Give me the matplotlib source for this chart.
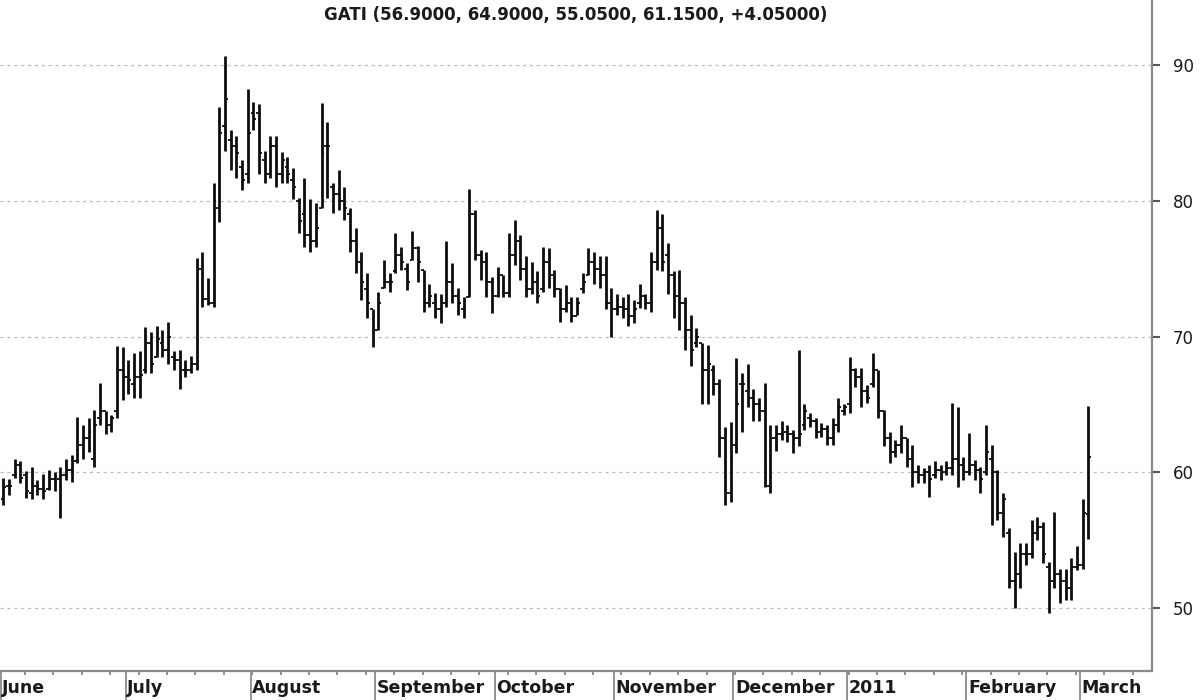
import numpy as np
import matplotlib
matplotlib.use("Agg")
from matplotlib import pyplot as plt
import matplotlib.transforms as mtransforms

plt.rcParams['font.family'] = ['DejaVu Sans']

# daily OHLC bars, Jun 2010 - Mar 2011, one line per month
opens = [
    58.0, 59.0, 59.8, 60.5, 59.8, 58.5, 59.0, 58.8, 58.8, 59.5, 59.5, 59.8, 60.2, 60.8, 62.0, 62.5, 61.0, 64.0, 64.5, 63.5, 64.5, 67.5,
    67.0, 66.5, 67.0, 67.5, 69.5, 68.5, 69.5, 69.0, 68.5, 68.3, 67.5, 67.5, 68.0, 75.0, 72.8, 72.5, 79.5, 85.5, 84.5, 84.0, 82.5, 82.0,
    86.5, 86.5, 83.0, 82.0, 84.0, 82.0, 82.5, 81.5, 80.0, 79.0, 77.5, 77.0, 79.5, 84.0, 81.0, 80.5, 80.0, 79.0, 77.0, 75.5, 73.5, 72.0,
    70.5, 73.6, 74.0, 74.8, 76.0, 75.0, 75.6, 76.5, 74.9, 72.5, 72.5, 72.0, 72.5, 74.0, 73.0, 72.0, 72.9, 79.0, 76.0, 75.5, 74.0,
    73.0, 74.5, 73.2, 76.0, 77.0, 75.0, 73.5, 74.0, 73.5, 75.5, 74.5, 73.5, 72.0, 72.5, 71.5, 73.5, 74.5, 75.5, 75.0, 74.5, 72.5, 72.0,
    72.2, 72.0, 71.5, 72.5, 73.0, 72.5, 75.5, 78.0, 76.0, 74.5, 73.0, 72.5, 70.5, 69.5, 69.5, 67.5, 67.5, 66.5, 62.5, 58.5,
    62.0, 66.5, 66.0, 65.5, 65.0, 64.5, 59.0, 62.5, 62.8, 63.0, 62.8, 62.5, 63.5, 64.0, 63.8, 63.0, 63.2, 62.5, 63.5, 64.5,
    65.0, 67.5, 67.0, 66.0, 66.5, 67.5, 64.5, 62.5, 61.5, 62.0, 62.5, 61.0, 60.0, 59.8, 60.0, 59.8, 60.2, 60.0, 60.3, 61.0, 60.5,
    60.0, 60.5, 60.2, 60.0, 61.0, 60.0, 57.0, 55.5, 52.0, 52.5, 54.0, 54.0, 55.5, 56.0, 53.0, 52.0, 52.5, 52.0, 51.5, 53.0,
    53.2, 56.9,
]
highs = [
    59.6, 59.5, 61.0, 60.8, 60.1, 60.4, 59.4, 59.9, 60.2, 60.0, 60.4, 61.0, 61.3, 64.1, 63.5, 64.0, 64.6, 66.6, 64.5, 64.2, 69.3, 69.2,
    68.3, 68.8, 68.9, 70.7, 70.3, 70.8, 70.5, 71.1, 68.9, 69.0, 68.3, 68.6, 75.8, 76.2, 74.3, 81.3, 86.9, 90.7, 85.2, 84.8, 83.0, 88.2,
    87.3, 87.1, 83.7, 84.8, 84.8, 83.6, 83.2, 82.4, 80.2, 81.7, 80.1, 79.8, 87.2, 85.8, 81.3, 82.3, 81.0, 79.5, 78.0, 76.2, 74.7, 72.0,
    73.3, 75.6, 74.7, 77.6, 76.6, 75.4, 77.8, 76.7, 74.9, 73.9, 73.2, 73.1, 77.0, 75.4, 73.6, 72.9, 80.9, 79.3, 76.4, 76.2, 74.4,
    75.1, 74.5, 77.6, 78.6, 77.5, 75.9, 75.5, 74.8, 76.6, 76.5, 74.9, 73.6, 73.8, 72.9, 72.9, 74.7, 76.5, 76.2, 75.9, 75.9, 73.6, 73.1,
    72.9, 73.1, 72.7, 73.9, 73.1, 76.2, 79.3, 79.0, 76.9, 74.8, 74.9, 72.9, 71.6, 70.6, 69.5, 69.4, 67.9, 66.9, 63.3, 63.7,
    68.4, 67.3, 68.0, 66.1, 65.5, 66.6, 63.5, 63.5, 63.8, 63.5, 63.1, 69.0, 65.0, 64.4, 64.0, 63.6, 63.5, 64.0, 65.5, 65.0,
    68.5, 67.7, 67.7, 66.4, 68.8, 67.5, 64.6, 63.0, 62.4, 63.5, 62.5, 62.0, 60.5, 60.3, 60.5, 60.8, 60.5, 60.8, 65.1, 64.8, 61.1,
    62.9, 60.9, 60.4, 63.5, 62.0, 60.2, 58.5, 55.9, 54.1, 54.8, 54.8, 56.5, 56.7, 56.3, 53.4, 57.1, 52.9, 52.9, 53.7, 54.6,
    58.0, 64.9,
]
lows = [
    57.6, 58.3, 59.6, 59.2, 58.1, 58.0, 58.3, 58.0, 58.7, 58.6, 56.6, 59.4, 59.3, 60.7, 61.0, 61.5, 60.4, 63.5, 62.8, 63.0, 64.0, 65.3,
    65.8, 65.5, 65.5, 67.3, 67.3, 68.5, 68.5, 68.0, 67.5, 66.1, 67.0, 67.3, 67.5, 72.2, 72.3, 72.2, 78.4, 83.7, 82.3, 81.7, 80.8, 81.3,
    85.2, 82.0, 81.3, 81.7, 81.0, 81.3, 81.3, 80.1, 77.6, 76.6, 76.2, 76.6, 79.5, 80.2, 79.1, 79.3, 78.6, 76.2, 74.7, 72.7, 71.4, 69.2,
    70.5, 73.6, 73.3, 74.7, 74.9, 73.4, 75.6, 74.0, 71.8, 72.2, 71.4, 71.0, 72.2, 72.5, 71.6, 71.4, 72.9, 75.6, 74.2, 72.9, 71.7,
    72.9, 72.9, 72.9, 75.3, 74.2, 72.9, 73.1, 72.5, 73.3, 73.6, 72.9, 71.1, 71.8, 71.1, 71.6, 73.2, 74.5, 73.9, 73.6, 72.0, 70.0, 71.6,
    71.4, 70.8, 71.0, 72.1, 72.0, 71.8, 74.9, 74.8, 73.1, 71.4, 70.5, 69.0, 67.8, 69.2, 65.0, 65.0, 65.7, 61.1, 57.6, 57.8,
    61.4, 63.0, 64.8, 63.8, 63.8, 58.9, 58.5, 61.6, 62.4, 62.2, 61.4, 61.9, 63.1, 63.3, 62.5, 62.6, 62.0, 62.0, 63.0, 64.2,
    64.4, 66.3, 64.8, 65.1, 66.3, 64.0, 61.9, 60.7, 61.1, 61.4, 60.4, 58.9, 59.2, 59.2, 58.2, 59.6, 59.4, 59.8, 59.8, 58.9, 59.4,
    59.8, 59.4, 58.5, 59.8, 56.1, 56.5, 55.2, 51.5, 50.0, 51.5, 53.2, 53.7, 55.0, 53.3, 49.6, 51.5, 50.4, 50.6, 50.6, 52.8,
    52.9, 55.05,
]
closes = [
    58.9, 59.0, 60.5, 59.6, 58.6, 59.0, 58.8, 58.6, 59.5, 59.3, 59.8, 60.2, 60.0, 62.0, 62.5, 63.0, 63.5, 64.5, 63.5, 64.0, 67.5, 67.0,
    66.8, 67.0, 67.2, 69.5, 68.0, 69.8, 69.0, 70.0, 68.3, 67.0, 67.5, 68.0, 73.0, 72.8, 72.5, 80.0, 85.0, 87.5, 84.0, 83.5, 81.5, 85.0,
    86.0, 83.5, 82.0, 84.0, 82.0, 83.0, 82.0, 81.0, 78.5, 77.5, 77.0, 78.0, 83.5, 84.0, 80.5, 80.0, 79.5, 77.0, 75.5, 74.0, 72.5, 70.3,
    72.5, 74.0, 74.0, 76.0, 75.5, 74.0, 76.5, 75.5, 72.5, 73.0, 72.0, 72.5, 74.0, 73.0, 72.5, 72.0, 79.0, 76.0, 75.0, 74.0, 73.0,
    74.0, 73.2, 76.0, 77.0, 75.0, 73.5, 74.0, 73.0, 75.5, 74.5, 73.5, 72.0, 72.5, 71.5, 72.5, 74.0, 75.5, 75.0, 74.5, 72.5, 72.0, 72.2,
    72.0, 71.5, 72.0, 73.0, 72.5, 75.5, 78.0, 75.5, 74.5, 73.0, 72.5, 70.5, 69.0, 70.0, 67.5, 68.0, 66.5, 62.5, 58.5, 61.0,
    65.0, 66.5, 65.5, 65.0, 64.5, 60.0, 62.5, 62.8, 63.2, 62.8, 62.5, 62.8, 64.5, 63.8, 63.0, 63.2, 62.5, 63.5, 64.8, 64.8,
    67.5, 67.0, 66.0, 65.5, 67.5, 64.5, 62.5, 61.5, 62.0, 62.5, 61.0, 60.0, 59.8, 60.0, 59.5, 60.2, 60.0, 60.3, 61.0, 60.5, 60.0,
    60.5, 60.2, 59.5, 61.5, 60.0, 57.0, 58.0, 52.0, 52.5, 54.0, 54.0, 55.5, 56.0, 54.0, 52.0, 52.5, 52.0, 51.5, 53.0, 53.2,
    57.0, 61.15,
]

months = ['June', 'July', 'August', 'September', 'October', 'November', 'December', '2011', 'February', 'March']
month_first_bar = [0, 22, 44, 66, 87, 108, 129, 149, 170, 190]
yticks = [50, 60, 70, 80, 90]

x = np.arange(len(closes))
o, h, l, c = map(np.array, (opens, highs, lows, closes))

fig = plt.figure(figsize=(12, 7), dpi=100)
ax = fig.add_axes([0, 29 / 700, 1152 / 1200, 671 / 700])

ax.set_xlim(-0.6, 202.2)
ax.set_ylim(45.36, 94.79)

for yv in yticks:
    ax.axhline(yv, color='#bdbdbd', lw=0.9, ls=(0, (2.5, 3)), zorder=0)

# bars: high-low stem, open tick left, close tick right
ax.vlines(x, l, h, color='#0d0d0d', lw=2.0, zorder=3)
ax.hlines(o, x - 0.5, x, color='#0d0d0d', lw=1.3, zorder=3)
ax.hlines(c, x, x + 0.5, color='#0d0d0d', lw=1.3, zorder=3)

for side in ['left', 'top']:
    ax.spines[side].set_visible(False)
for side in ['right', 'bottom']:
    ax.spines[side].set_color('#8a8a8a')
    ax.spines[side].set_linewidth(1.6)

ax.yaxis.tick_right()
ax.set_yticks(yticks)
ax.tick_params(axis='y', length=6, width=1.5, color='#555555', pad=9,
               labelsize=12, labelcolor='#1a1a1a')

seps = [m - 0.5 for m in month_first_bar]
ax.set_xticks(seps)
ax.set_xticklabels([])
ax.set_xticks(np.arange(3.8, 200, 5), minor=True)
ax.tick_params(axis='x', which='major', length=22, width=1.3, color='#8a8a8a')
ax.tick_params(axis='x', which='minor', length=3, width=1.3, color='#8a8a8a')

trans = mtransforms.blended_transform_factory(ax.transData, ax.transAxes)
for s, name in zip(seps, months):
    ax.text(s + 0.3, -0.026, name, transform=trans, ha='left', va='center',
            fontsize=12.5, fontweight='bold', color='#1a1a1a')

fig.text(576 / 1200, 1 - 15 / 700, 'GATI (56.9000, 64.9000, 55.0500, 61.1500, +4.05000)',
         ha='center', va='center', fontsize=12, fontweight='bold', color='#1a1a1a')

fig.savefig('out.png', dpi=100)
